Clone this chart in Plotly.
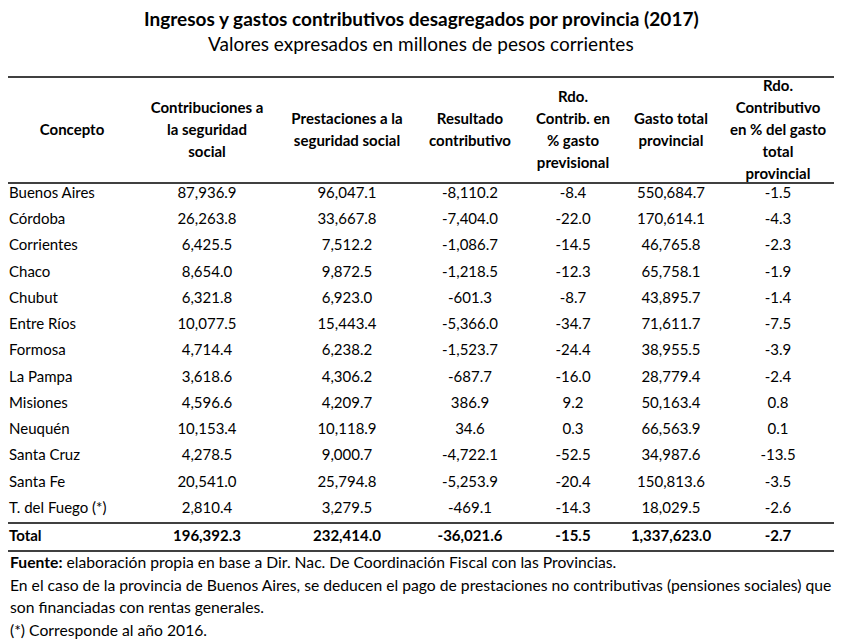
import plotly.graph_objects as go

title = "Ingresos y gastos contributivos desagregados por provincia (2017)"
subtitle = "Valores expresados en millones de pesos corrientes"

headers = [
    ["Concepto"],
    ["Contribuciones a", "la seguridad", "social"],
    ["Prestaciones a la", "seguridad social"],
    ["Resultado", "contributivo"],
    ["Rdo.", "Contrib. en", "% gasto", "previsional"],
    ["Gasto total", "provincial"],
    ["Rdo.", "Contributivo", "en % del gasto", "total", "provincial"],
]

provincias = ["Buenos Aires", "Córdoba", "Corrientes", "Chaco", "Chubut", "Entre Ríos",
              "Formosa", "La Pampa", "Misiones", "Neuquén", "Santa Cruz", "Santa Fe",
              "T. del Fuego (*)"]
contribuciones = [87936.9, 26263.8, 6425.5, 8654.0, 6321.8, 10077.5, 4714.4, 3618.6,
                  4596.6, 10153.4, 4278.5, 20541.0, 2810.4]
prestaciones = [96047.1, 33667.8, 7512.2, 9872.5, 6923.0, 15443.4, 6238.2, 4306.2,
                4209.7, 10118.9, 9000.7, 25794.8, 3279.5]
resultado = [-8110.2, -7404.0, -1086.7, -1218.5, -601.3, -5366.0, -1523.7, -687.7,
             386.9, 34.6, -4722.1, -5253.9, -469.1]
rdo_prev = [-8.4, -22.0, -14.5, -12.3, -8.7, -34.7, -24.4, -16.0, 9.2, 0.3, -52.5,
            -20.4, -14.3]
gasto_total = [550684.7, 170614.1, 46765.8, 65758.1, 43895.7, 71611.7, 38955.5,
               28779.4, 50163.4, 66563.9, 34987.6, 150813.6, 18029.5]
rdo_gasto = [-1.5, -4.3, -2.3, -1.9, -1.4, -7.5, -3.9, -2.4, 0.8, 0.1, -13.5, -3.5, -2.6]

total_label = "Total"
totals = [196392.3, 232414.0, -36021.6, -15.5, 1337623.0, -2.7]

footnotes = [
    "<b>Fuente:</b> elaboración propia en base a Dir. Nac. De Coordinación Fiscal con las Provincias.",
    "En el caso de la provincia de Buenos Aires, se deducen el pago de prestaciones no contributivas (pensiones sociales) que",
    "son financiadas con rentas generales.",
    "(*) Corresponde al año 2016.",
]

FONT = "Lato, Carlito, Calibri, sans-serif"
FS = 15
FS_NOTE = 15.7
# window is 842x643; the page body has an 8px margin, so the figure is 834x635
# and the axes are set so that axis units equal window pixels.
WIN_W, WIN_H = 842, 643
OFF = 8
col_x = [9, 207, 347, 470, 573, 671, 778]
head_x0 = 72
row_y0 = 194
row_h = 26.25
total_y = 537
head_line_h = 22
head_mid = 131
rules = [77, 183, 523, 551]

fig = go.Figure()


def fmt(v):
    return f"{v:,.1f}"


data_cols = [contribuciones, prestaciones, resultado, rdo_prev, gasto_total, rdo_gasto]
ys = [row_y0 + i * row_h for i in range(len(provincias))]

fig.add_trace(go.Scatter(x=[col_x[0]] * (len(provincias) + 1), y=ys + [total_y],
                         mode="text", text=provincias + ["<b>" + total_label + "</b>"],
                         textposition="middle right", cliponaxis=False,
                         textfont=dict(family=FONT, size=FS, color="black"),
                         hoverinfo="skip", showlegend=False))
for j, col in enumerate(data_cols):
    fig.add_trace(go.Scatter(x=[col_x[j + 1]] * (len(col) + 1), y=ys + [total_y],
                             mode="text", cliponaxis=False,
                             text=[fmt(v) for v in col] + ["<b>" + fmt(totals[j]) + "</b>"],
                             textposition="middle center",
                             textfont=dict(family=FONT, size=FS, color="black"),
                             hoverinfo="skip", showlegend=False))

# headers
hx, hy, ht = [], [], []
for j, lines in enumerate(headers):
    cx = head_x0 if j == 0 else col_x[j]
    n = len(lines)
    for k, line in enumerate(lines):
        hx.append(cx)
        hy.append(head_mid + (k - (n - 1) / 2) * head_line_h)
        ht.append("<b>" + line + "</b>")
fig.add_trace(go.Scatter(x=hx, y=hy, mode="text", text=ht, textposition="middle center",
                         cliponaxis=False,
                         textfont=dict(family=FONT, size=FS, color="black"),
                         hoverinfo="skip", showlegend=False))

shapes = [dict(type="line", xref="x", yref="y", x0=OFF, x1=840, y0=r, y1=r,
               line=dict(color="black", width=1.6)) for r in rules]

annotations = [
    dict(x=WIN_W / 2, y=18, xref="x", yref="y", text="<b>" + title + "</b>", showarrow=False,
         font=dict(family=FONT, size=19, color="black"), xanchor="center", yanchor="middle"),
    dict(x=WIN_W / 2, y=43, xref="x", yref="y", text=subtitle, showarrow=False,
         font=dict(family=FONT, size=19, color="black"), xanchor="center", yanchor="middle"),
]
for k, t in enumerate(footnotes):
    annotations.append(dict(x=OFF, y=562 + k * 22.6, xref="x", yref="y", text=t,
                            xshift=0, showarrow=False, xanchor="left", yanchor="middle",
                            font=dict(family=FONT, size=FS_NOTE, color="black")))

fig.update_layout(
    width=WIN_W - OFF, height=WIN_H - OFF, margin=dict(l=0, r=0, t=0, b=0, pad=0),
    paper_bgcolor="white", plot_bgcolor="white",
    xaxis=dict(range=[OFF, WIN_W], visible=False, fixedrange=True),
    yaxis=dict(range=[WIN_H, OFF], visible=False, fixedrange=True),
    shapes=shapes, annotations=annotations, showlegend=False,
)

fig.write_html("out.html")
